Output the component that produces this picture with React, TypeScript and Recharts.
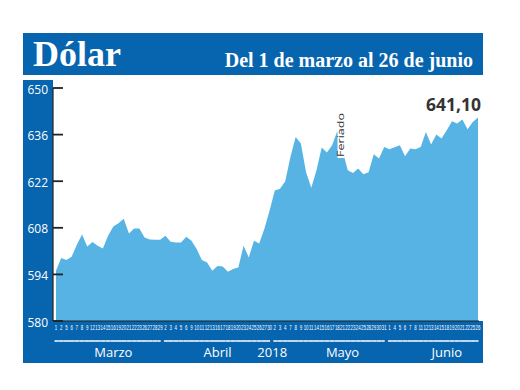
import React from "react";
import { AreaChart, Area, XAxis, YAxis, ReferenceLine, LabelList } from "recharts";

// días hábiles (el 21 de mayo es feriado y queda sin valor)
const marzo = [1, 2, 5, 6, 7, 8, 9, 12, 13, 14, 15, 16, 19, 20, 21, 22, 23, 26, 27, 28, 29];
const abril = [2, 3, 4, 5, 6, 9, 10, 11, 12, 13, 16, 17, 18, 19, 20, 23, 24, 25, 26, 27, 30];
const mayo = [2, 3, 4, 7, 8, 9, 10, 11, 14, 15, 16, 17, 18, 21, 22, 23, 24, 25, 28, 29, 30, 31];
const junio = [1, 4, 5, 6, 7, 8, 11, 12, 13, 14, 15, 18, 19, 20, 21, 22, 25, 26];

const valMarzo = [
  595.1, 598.9, 598.3, 599.3, 602.9, 606.0, 602.4, 603.7, 602.6, 601.8, 605.6,
  608.4, 609.4, 610.7, 606.3, 607.8, 607.8, 605.1, 604.5, 604.4, 604.4,
];
const valAbril = [
  605.6, 603.8, 603.6, 603.6, 605.3, 604.1, 601.6, 598.3, 597.6, 595.1, 596.5,
  596.4, 594.8, 595.6, 596.1, 602.6, 599.1, 604.1, 603.3, 607.7, 613.2,
];
const valMayo = [
  619.2, 619.7, 622.0, 629.3, 635.3, 633.3, 624.7, 620.0, 625.3, 632.1, 630.6,
  632.8, 637.1, null, 625.3, 624.5, 625.8, 624.1, 624.7, 630.1, 628.8, 632.3,
];
const valJunio = [
  631.6, 632.2, 632.8, 629.5, 631.8, 631.6, 632.3, 636.8, 633.0, 636.0, 634.8,
  637.3, 640.0, 639.3, 640.5, 637.6, 639.8, 641.1,
];

const yTicks = [580, 594, 608, 622, 636, 650];
const feriado = "may-21";

const monthLabels = [
  { at: "mar-16", text: "Marzo", shift: 0 },
  { at: "abr-16", text: "Abril", shift: 0 },
  { at: "abr-30", text: "2018", shift: 2.6 },
  { at: "may-21", text: "Mayo", shift: 0 },
  { at: "jun-18", text: "Junio", shift: 0 },
];

const months = [
  { key: "mar", days: marzo, vals: valMarzo },
  { key: "abr", days: abril, vals: valAbril },
  { key: "may", days: mayo, vals: valMayo },
  { key: "jun", days: junio, vals: valJunio },
];

const rows = months.flatMap((m) =>
  m.days.map((d, i) => ({
    id: `${m.key}-${d}`,
    day: d,
    value: m.vals[i],
    first: i === 0,
    last: i === m.days.length - 1,
  }))
);
const rowById: Record<string, (typeof rows)[number]> = {};
rows.forEach((r) => (rowById[r.id] = r));

const BLUE = "#0764ae";
const AREA = "#56b3e3";

function DayTick(props: any) {
  const { x, y, payload } = props;
  const row = rowById[payload.value];
  if (!row) return null;
  const half = 2.6;
  const x1 = row.first ? x - 1.5 : x - half;
  const x2 = row.last ? x + 0.5 : x + half;
  const label = monthLabels.find((m) => m.at === row.id);
  return (
    <g>
      <text
        transform={`translate(${x},${y + 8.5}) scale(0.55,1)`}
        textAnchor="middle"
        fill="#fff"
        fontSize={8}
        fontFamily="'Liberation Sans', sans-serif"
      >
        {row.day}
      </text>
      <line x1={x1} x2={x2} y1={y + 20} y2={y + 20} stroke="#fff" strokeWidth={1.5} />
      {label && (
        <text
          x={x + label.shift}
          y={y + 36}
          textAnchor="middle"
          fill="#fff"
          fontSize={13}
          fontFamily="'Open Sans', sans-serif"
        >
          {label.text}
        </text>
      )}
    </g>
  );
}

function ValueTick(props: any) {
  const { x, y, payload } = props;
  return (
    <g>
      <text
        x={x}
        y={y + 5.5}
        textAnchor="end"
        fill="#fff"
        fontSize={12}
        fontFamily="'Open Sans', sans-serif"
      >
        {payload.value}
      </text>
      <line x1={x + 5} x2={x + 15} y1={y} y2={y} stroke="#222" strokeWidth={1.8} />
    </g>
  );
}

function FeriadoTag(props: any) {
  const vb = props.viewBox || {};
  const x = vb.x ?? 0;
  const top = (vb.y ?? 0) + 24;
  return (
    <g>
      <rect x={x - 5} y={top} width={7} height={46} fill="#fff" />
      <text
        transform={`translate(${x + 1.2},${top + 23}) rotate(-90)`}
        textAnchor="middle"
        fill="#333"
        fontSize={9.5}
        textLength={44}
        lengthAdjust="spacingAndGlyphs"
        fontFamily="'Open Sans', sans-serif"
      >
        Feriado
      </text>
    </g>
  );
}

function LastLabel(props: any) {
  const { x, y, index, value } = props;
  if (index !== rows.length - 1 || value == null) return null;
  return (
    <text
      x={x + 3}
      y={y - 7}
      textAnchor="end"
      fill="#333"
      fontSize={17.5}
      fontWeight="bold"
      fontFamily="'Open Sans', sans-serif"
    >
      {Number(value).toFixed(2).replace(".", ",")}
    </text>
  );
}

export default function App() {
  return (
    <div style={{ position: "absolute", left: 0, top: 0, width: 520, height: 390, background: "#fff" }}>
      <svg width={520} height={390} style={{ position: "absolute", left: 0, top: 0 }}>
        <rect x={23} y={33} width={460} height={42} fill={BLUE} />
        <rect x={23} y={80} width={30} height={283} fill={BLUE} />
        <rect x={23} y={321} width={460} height={42} fill={BLUE} />
        <text x={33} y={66} fill="#fff" fontSize={36} fontWeight="bold" fontFamily="'Liberation Serif', serif">
          Dólar
        </text>
        <text
          x={473}
          y={67}
          textAnchor="end"
          fill="#fff"
          fontSize={20}
          fontWeight="bold"
          fontFamily="'Liberation Serif', serif"
        >
          Del 1 de marzo al 26 de junio
        </text>
      </svg>
      <div style={{ position: "absolute", left: 0, top: 0 }}>
        <AreaChart width={520} height={390} data={rows} margin={{ top: 88, right: 41, left: 23, bottom: 29 }}>
          <XAxis
            dataKey="id"
            interval={0}
            tickLine={false}
            tickSize={0}
            tickMargin={0}
            height={40}
            padding={{ left: 3, right: 1 }}
            axisLine={{ stroke: "#222", strokeWidth: 1.2 }}
            tick={<DayTick />}
          />
          <YAxis
            type="number"
            domain={[580, 650]}
            ticks={yTicks}
            allowDataOverflow
            width={30}
            tickLine={false}
            tickSize={0}
            tickMargin={5}
            axisLine={{ stroke: "#222", strokeWidth: 1.2 }}
            tick={<ValueTick />}
          />
          <Area
            type="linear"
            dataKey="value"
            stroke="none"
            fill={AREA}
            fillOpacity={1}
            baseValue={580}
            connectNulls
            dot={false}
            activeDot={false}
            isAnimationActive={false}
          >
            <LabelList dataKey="value" content={<LastLabel />} />
          </Area>
          <ReferenceLine x={feriado} stroke="none" label={<FeriadoTag />} />
        </AreaChart>
      </div>
    </div>
  );
}
